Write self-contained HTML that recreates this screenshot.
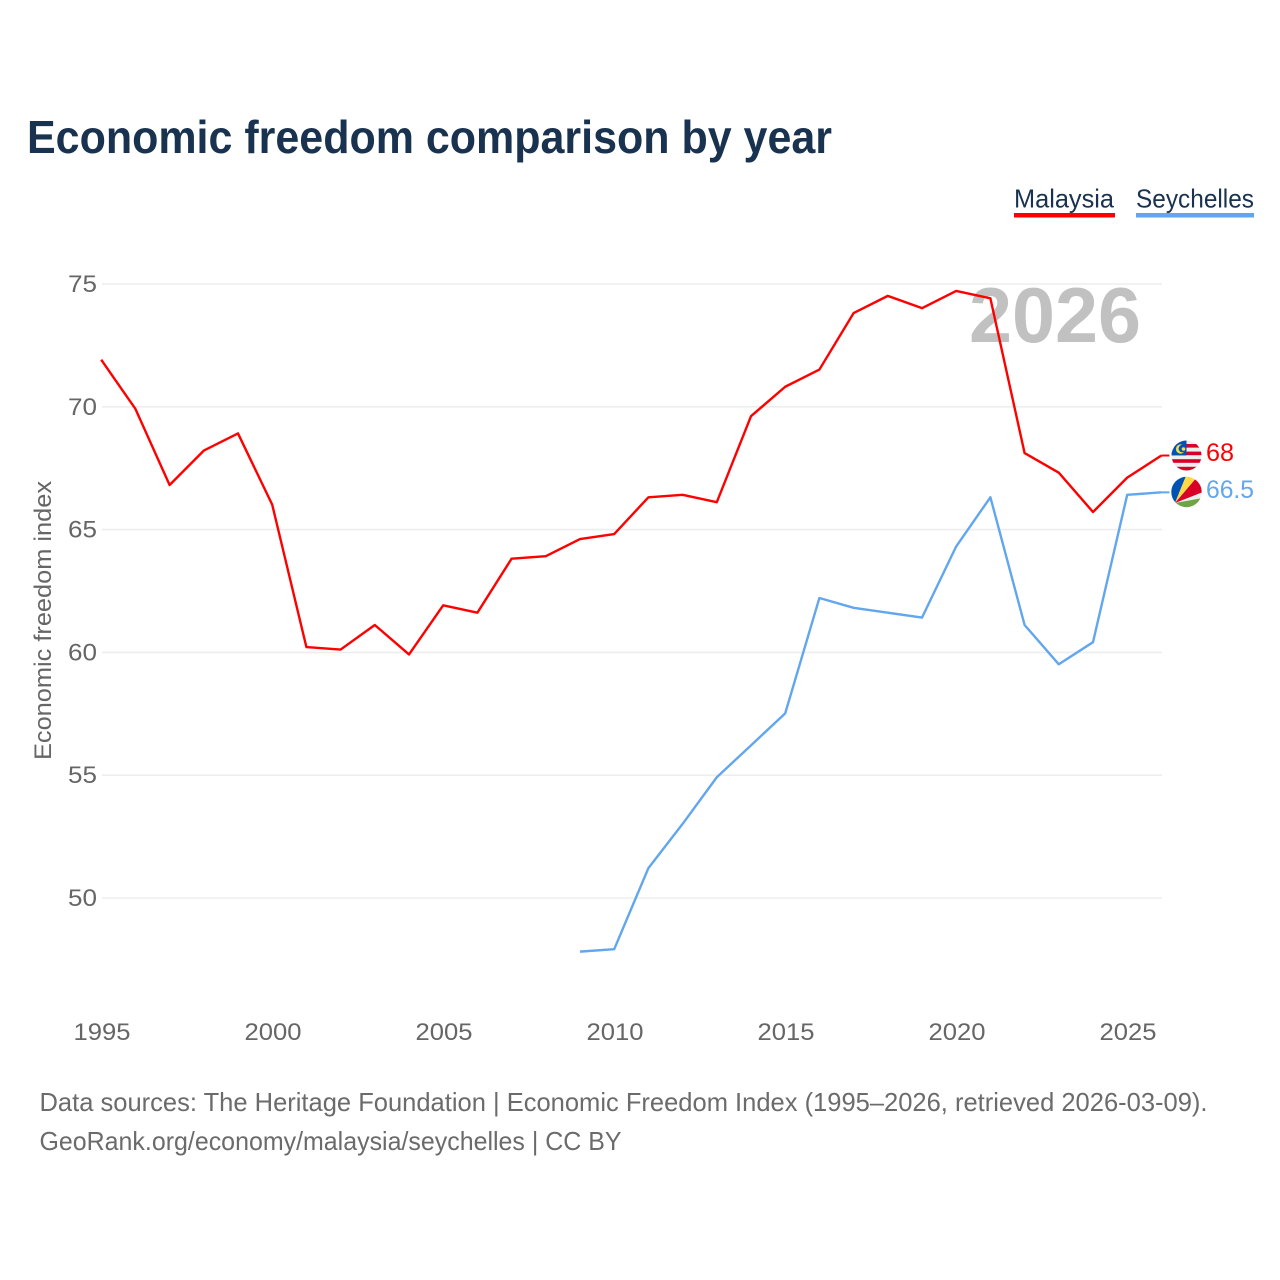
<!DOCTYPE html>
<html>
<head>
<meta charset="utf-8">
<title>Economic freedom comparison by year</title>
<style>
html,body{margin:0;padding:0;background:#fff;}
svg{display:block;font-family:"Liberation Sans",sans-serif;}
</style>
</head>
<body>
<svg id="chart" xmlns="http://www.w3.org/2000/svg" width="1280" height="1280" viewBox="0 0 1280 1280">
  <defs>
    <clipPath id="flag-clip-my"><circle cx="1186.5" cy="455.5" r="15"/></clipPath>
    <clipPath id="flag-clip-sc"><circle cx="1186.5" cy="492" r="15.2"/></clipPath>
  </defs>
  <rect width="1280" height="1280" fill="#fff"/>
  <text x="27" y="153" font-size="46" font-weight="700" fill="#18324f" textLength="805" lengthAdjust="spacingAndGlyphs">Economic freedom comparison by year</text>

  <g>
    <text x="1014" y="207.5" font-size="26" fill="#18324f" textLength="100" lengthAdjust="spacingAndGlyphs">Malaysia</text>
    <rect x="1014" y="213" width="101" height="4.5" fill="#ff0000"/>
  </g>
  <g>
    <text x="1136" y="207.5" font-size="26" fill="#18324f" textLength="118" lengthAdjust="spacingAndGlyphs">Seychelles</text>
    <rect x="1136" y="213" width="118" height="4.5" fill="#62a6ee"/>
  </g>

  <g id="grid"></g>
  <text x="1141" y="342" text-anchor="end" font-size="78" font-weight="700" fill="#c1c1c1" textLength="172" lengthAdjust="spacingAndGlyphs">2026</text>
  <g id="yticks"></g>
  <g id="xticks"></g>
  <text transform="translate(51,760) rotate(-90)" font-size="24" fill="#666" textLength="279" lengthAdjust="spacingAndGlyphs">Economic freedom index</text>
  <g id="series"></g>

  <g clip-path="url(#flag-clip-my)">
    <rect x="1171" y="440" width="31" height="31" fill="#eeeeee"/>
    <rect x="1171" y="444" width="31" height="3.6" fill="#d80027"/>
    <rect x="1171" y="451.6" width="31" height="3.6" fill="#d80027"/>
    <rect x="1171" y="459.2" width="31" height="3.6" fill="#d80027"/>
    <rect x="1171" y="466.8" width="31" height="4" fill="#d80027"/>
    <rect x="1171" y="440" width="15.5" height="15.4" fill="#0052b4"/>
    <circle cx="1180.5" cy="449" r="4.6" fill="#ffda44"/>
    <circle cx="1182.3" cy="448.6" r="3.7" fill="#0052b4"/>
    <circle cx="1183.5" cy="449" r="1.8" fill="#ffda44"/>
  </g>
  <g clip-path="url(#flag-clip-sc)">
    <rect x="1171" y="476" width="31" height="32" fill="#eeeeee"/>
    <polygon points="1175,503 1165,500 1171,476 1186,476" fill="#0052b4"/>
    <polygon points="1175,503 1186,476 1198,476" fill="#ffda44"/>
    <polygon points="1175,503 1198,476 1203,480 1203,492" fill="#d80027"/>
    <polygon points="1175,503 1203,498 1203,510 1175,510" fill="#6da544"/>
  </g>

  <text x="1206" y="461" font-size="25" fill="#ff0000" textLength="28" lengthAdjust="spacingAndGlyphs">68</text>
  <text x="1206" y="498" font-size="25" fill="#62a6ee" textLength="48" lengthAdjust="spacingAndGlyphs">66.5</text>

  <text x="39.5" y="1111" font-size="26" fill="#6b6b6b" textLength="1168" lengthAdjust="spacingAndGlyphs">Data sources: The Heritage Foundation | Economic Freedom Index (1995–2026, retrieved 2026-03-09).</text>
  <text x="39.5" y="1150" font-size="26" fill="#6b6b6b" textLength="582" lengthAdjust="spacingAndGlyphs">GeoRank.org/economy/malaysia/seychelles | CC BY</text>
</svg>
<script>
const years = [1995,1996,1997,1998,1999,2000,2001,2002,2003,2004,2005,2006,2007,2008,2009,2010,2011,2012,2013,2014,2015,2016,2017,2018,2019,2020,2021,2022,2023,2024,2025,2026];
const malaysiaValues = [71.9,69.9,66.8,68.2,68.9,66.0,60.2,60.1,61.1,59.9,61.9,61.6,63.8,63.9,64.6,64.8,66.3,66.4,66.1,69.6,70.8,71.5,73.8,74.5,74.0,74.7,74.4,68.1,67.3,65.7,67.1,68.0];
const seychellesValues = [null,null,null,null,null,null,null,null,null,null,null,null,null,null,47.8,47.9,51.2,53.0,54.9,56.2,57.5,62.2,61.8,61.6,61.4,64.3,66.3,61.1,59.5,60.4,66.4,66.5];
const yTickValues = [50,55,60,65,70,75];
const xTickValues = [1995,2000,2005,2010,2015,2020,2025];

const NS = 'http://www.w3.org/2000/svg';
function xScale(year){ return 101.2 + (year - 1995) * (1127.2 - 101.2) / 30; }
function yScale(v){ return 283.6 + (75 - v) * (897.6 - 283.6) / 25; }
function make(tag, attrs, parent, text){
  const el = document.createElementNS(NS, tag);
  for (const k in attrs) el.setAttribute(k, attrs[k]);
  if (text !== undefined) el.textContent = text;
  parent.appendChild(el);
  return el;
}
const grid = document.getElementById('grid');
const yticks = document.getElementById('yticks');
const xticks = document.getElementById('xticks');
const series = document.getElementById('series');

yTickValues.forEach(function(v){
  const line = make('line', {x1:102, x2:1162, y1:yScale(v)+0.4, y2:yScale(v)+0.4, stroke:'#ededed', 'stroke-width':1.6}, grid);
  
  
  const label = make('text', {x:97, y:yScale(v)+8.4, 'text-anchor':'end', 'font-size':24.5, fill:'#666', textLength:29, lengthAdjust:'spacingAndGlyphs'}, yticks, String(v));
  
  
});
xTickValues.forEach(function(y){
  const label = make('text', {x:xScale(y)+0.8, y:1040, 'text-anchor':'middle', 'font-size':24.5, fill:'#666', textLength:57, lengthAdjust:'spacingAndGlyphs'}, xticks, String(y));
  
  
});
function pathFor(values){
  const pts = [];
  values.forEach(function(v, i){
    if (v !== null) pts.push(xScale(years[i]).toFixed(2) + ',' + yScale(v).toFixed(2));
  });
  return 'M' + pts.join('L');
}
function endConnector(values){
  const last = values[values.length - 1];
  return 'M' + xScale(years[years.length - 1]).toFixed(2) + ',' + yScale(last).toFixed(2) + 'h8';
}
const seychellesLine = make('path', {d:pathFor(seychellesValues), fill:'none', stroke:'#62a6ee', 'stroke-width':2.4, 'stroke-linejoin':'round'}, series);


const malaysiaLine = make('path', {d:pathFor(malaysiaValues), fill:'none', stroke:'#ff0000', 'stroke-width':2.4, 'stroke-linejoin':'round'}, series);


const seychellesConnector = make('path', {d:endConnector(seychellesValues), fill:'none', stroke:'#62a6ee', 'stroke-width':2}, series);


const malaysiaConnector = make('path', {d:endConnector(malaysiaValues), fill:'none', stroke:'#ff0000', 'stroke-width':2}, series);


</script>
</body>
</html>
